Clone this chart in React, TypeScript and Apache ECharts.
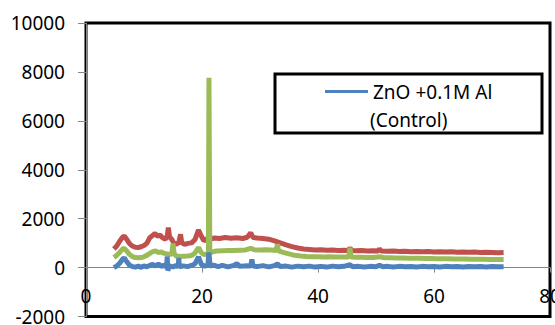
import React, { useEffect, useRef } from "react";
import * as echarts from "echarts";

const xTicks = [0, 20, 40, 60, 80];
const yTicks = [-2000, 0, 2000, 4000, 6000, 8000, 10000];

const legendName = "ZnO +0.1M Al (Control)";
const legendLine1 = "ZnO +0.1M Al";
const legendLine2 = "(Control)";

// Blue series (control) [2θ, intensity]
const blueData: [number, number][] = [
  [4.8, 0], [5.3, 60], [5.8, 180], [6.3, 340], [6.6, 400], [7.0, 250], [7.5, 100], [8.0, 40],
  [8.5, 20], [9.0, 60], [9.5, 10], [10.0, 70], [10.5, 30], [11.0, 90], [11.5, 130], [12.0, 60],
  [12.5, 150], [13.0, 50], [13.5, 100], [13.9, 20], [14.0, 460], [14.1, -120], [14.4, 70],
  [15.0, 30], [15.5, 80], [15.9, 40], [16.0, 400], [16.1, 30], [16.8, 70], [17.5, 40], [18.2, 90],
  [18.8, 160], [19.4, 440], [19.9, 120], [20.5, 60], [21.0, 90], [21.2, 620], [21.4, 60],
  [22.0, 100], [22.8, 40], [23.5, 90], [24.5, 30], [25.5, 90], [26.0, 160], [26.5, 50],
  [27.5, 70], [28.4, 60], [28.6, 330], [28.8, 60], [29.5, 40], [30.5, 80], [31.5, 30],
  [32.5, 80], [33.0, 150], [33.5, 40], [34.5, 60], [35.5, 20], [36.5, 60], [37.5, 30],
  [38.5, 60], [39.5, 20], [40.5, 50], [41.5, 20], [42.5, 60], [43.5, 30], [44.5, 50],
  [45.5, 120], [46.0, 30], [47.0, 50], [48.0, 20], [49.0, 50], [50.0, 30], [50.6, 100],
  [51.2, 30], [52.0, 50], [53.0, 20], [54.0, 50], [55.0, 30], [56.0, 40], [57.0, 20],
  [58.0, 50], [59.0, 30], [60.0, 40], [61.0, 20], [62.0, 50], [63.0, 30], [64.0, 40],
  [65.0, 20], [66.0, 40], [67.0, 30], [68.0, 40], [69.0, 20], [70.0, 40], [71.0, 30], [72.0, 30],
];

// Red series
const redData: [number, number][] = [
  [4.8, 760], [5.3, 880], [5.8, 1080], [6.3, 1240], [6.6, 1290], [7.0, 1160], [7.5, 980],
  [8.0, 880], [8.5, 830], [9.0, 820], [9.5, 850], [10.0, 900], [10.5, 1000], [11.0, 1220],
  [11.4, 1300], [11.9, 1400], [12.3, 1290], [12.8, 1320], [13.2, 1220], [13.7, 1160],
  [14.0, 1280], [14.2, 1640], [14.4, 1260], [14.8, 1150], [15.2, 980], [15.6, 960],
  [16.0, 1020], [16.3, 1360], [16.5, 1020], [17.0, 950], [17.6, 990], [18.2, 1010],
  [18.8, 1150], [19.4, 1540], [19.9, 1280], [20.3, 1100], [20.8, 1160], [21.2, 1280],
  [21.6, 1180], [22.2, 1210], [23.0, 1190], [24.0, 1230], [25.0, 1200], [26.0, 1220],
  [27.0, 1190], [27.8, 1240], [28.4, 1420], [28.8, 1230], [29.5, 1210], [30.5, 1190],
  [31.5, 1160], [32.5, 1090], [33.5, 1010], [34.5, 930], [35.5, 860], [36.5, 800],
  [37.5, 760], [38.5, 740], [39.5, 720], [40.5, 730], [41.5, 710], [42.5, 720], [43.5, 700],
  [44.5, 710], [45.3, 700], [45.5, 810], [45.8, 700], [46.5, 690], [47.5, 700], [48.5, 680],
  [49.5, 690], [50.4, 680], [50.6, 770], [50.9, 680], [52, 670], [53, 680], [54, 660],
  [55, 670], [56, 650], [57, 660], [58, 650], [59, 660], [60, 640], [61, 650], [62, 640],
  [63, 650], [64, 630], [65, 640], [66, 630], [67, 640], [68, 620], [69, 630], [70, 620],
  [71, 610], [72, 620],
];

// Green series
const greenData: [number, number][] = [
  [4.8, 420], [5.3, 500], [5.8, 620], [6.3, 760], [6.6, 790], [7.0, 680], [7.5, 540],
  [8.0, 450], [8.5, 410], [9.0, 400], [9.5, 410], [10.0, 440], [10.5, 500], [11.0, 580],
  [11.5, 650], [12.0, 680], [12.5, 620], [13.0, 640], [13.5, 580], [14.0, 560], [14.5, 540],
  [14.8, 560], [15.0, 980], [15.2, 560], [15.6, 470], [16.2, 450], [16.8, 460], [17.5, 470],
  [18.2, 490], [18.8, 600], [19.4, 820], [19.9, 600], [20.4, 530], [20.9, 560], [21.1, 560],
  [21.2, 7760], [21.35, 620], [21.8, 640], [22.5, 680], [23.5, 690], [24.5, 700], [25.5, 700],
  [26.5, 710], [27.5, 720], [28.4, 790], [29.0, 730], [30.0, 720], [31.0, 730], [32.0, 720],
  [32.8, 700], [33.0, 960], [33.2, 680], [34.0, 620], [35.0, 560], [36.0, 500], [37.0, 470],
  [38.0, 450], [39.0, 440], [40.0, 440], [41.0, 430], [42.0, 440], [43.0, 430], [44.0, 430],
  [45.3, 430], [45.5, 810], [45.7, 430], [46.5, 420], [47.5, 420], [48.5, 410], [49.5, 410],
  [50.6, 440], [51.5, 400], [52.5, 400], [53.5, 390], [54.5, 390], [55.5, 380], [56.5, 380],
  [57.5, 380], [58.5, 370], [59.5, 370], [60.5, 360], [61.5, 360], [62.5, 360], [63.5, 350],
  [64.5, 350], [65.5, 350], [66.5, 340], [67.5, 340], [68.5, 340], [69.5, 330], [70.5, 330],
  [71.5, 330], [72.0, 330],
];

const FONT = "Noto Sans";
const GRID_TOP = 23;
const GRID_BOTTOM = 8.5;
const CHART_H = 325;

export default function App() {
  const ref = useRef<HTMLDivElement>(null);
  useEffect(() => {
    const chart = echarts.init(ref.current!, null, { renderer: "svg" });
    const yMin = yTicks[0];
    const yMax = yTicks[yTicks.length - 1];
    const plotH = CHART_H - GRID_TOP - GRID_BOTTOM;
    const zeroOffset = (plotH * (0 - yMin)) / (yMax - yMin);
    chart.setOption({
      animation: false,
      backgroundColor: "#fff",
      grid: {
        left: 86,
        right: 5,
        top: GRID_TOP,
        bottom: GRID_BOTTOM,
        outerBoundsMode: "none",
        containLabel: false,
        show: true,
        borderColor: "#000",
        borderWidth: 3,
        backgroundColor: "transparent",
      },
      xAxis: {
        type: "value",
        min: xTicks[0],
        max: xTicks[xTicks.length - 1],
        interval: 20,
        offset: -zeroOffset,
        splitLine: { show: false },
        axisLine: { onZero: false, lineStyle: { color: "#868686", width: 1 } },
        axisTick: { show: true, length: 5, lineStyle: { color: "#868686" } },
        axisLabel: {
          color: "#000",
          fontSize: 19,
          fontFamily: FONT,
          margin: 19,
          showMinLabel: true,
          showMaxLabel: true,
          hideOverlap: false,
          formatter: (v: number) => String(v),
        },
      },
      yAxis: {
        type: "value",
        min: yMin,
        max: yMax,
        interval: 2000,
        splitLine: { show: false },
        axisLine: { show: true, onZero: false, lineStyle: { color: "#868686", width: 1 } },
        axisTick: { show: true, length: 8, lineStyle: { color: "#868686" } },
        axisLabel: {
          color: "#000",
          fontSize: 19,
          fontFamily: FONT,
          margin: 21,
          formatter: (v: number) => String(v),
        },
      },
      legend: {
        data: [legendName],
        left: 325,
        top: 82,
        padding: 0,
        icon: "rect",
        itemWidth: 43,
        itemHeight: 3,
        itemGap: 0,
        formatter: () => legendLine1,
        textStyle: { color: "#000", fontSize: 19, fontFamily: FONT },
      },
      graphic: [
        {
          type: "rect",
          shape: { x: 275, y: 74, width: 267, height: 59 },
          style: { fill: "transparent", stroke: "#000", lineWidth: 3 },
          z: 10,
        },
        {
          type: "text",
          x: 370,
          y: 120,
          style: {
            text: legendLine2,
            fill: "#000",
            font: `19px "${FONT}"`,
            textVerticalAlign: "middle",
          },
          z: 10,
        },
      ],
      series: [
        {
          name: "Series 2",
          type: "line",
          data: redData,
          symbol: "none",
          lineStyle: { color: "#C0504D", width: 5 },
          itemStyle: { color: "#C0504D" },
        },
        {
          name: "Series 3",
          type: "line",
          data: greenData,
          symbol: "none",
          lineStyle: { color: "#9BBB59", width: 5 },
          itemStyle: { color: "#9BBB59" },
        },
        {
          name: legendName,
          type: "line",
          data: blueData,
          symbol: "none",
          lineStyle: { color: "#4F81BD", width: 5 },
          itemStyle: { color: "#4F81BD" },
        },
      ],
    });
    return () => chart.dispose();
  }, []);
  return (
    <div
      ref={ref}
      style={{ position: "absolute", left: 0, top: 0, width: 555, height: 325 }}
    />
  );
}
